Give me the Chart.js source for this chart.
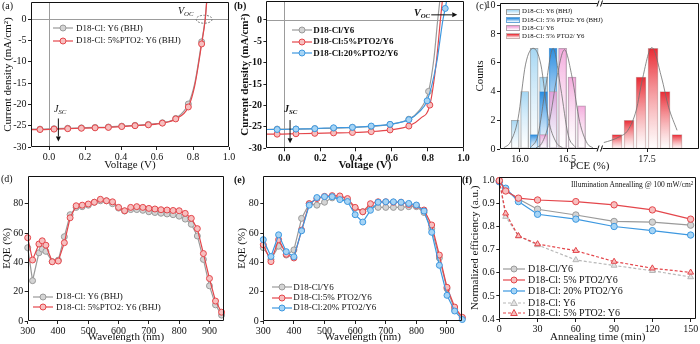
<!DOCTYPE html>
<html lang="en">
<head>
<meta charset="UTF-8" />
<title>D18-Cl / PTO2 devices</title>
<script src="https://cdn.jsdelivr.net/npm/chart.js"></script>
<style>
  html, body { margin: 0; padding: 0; background: #fff; }
  body { position: relative; width: 700px; height: 344px; overflow: hidden;
         font-family: "Liberation Serif", "Times New Roman", serif; color: #111; }
  canvas { position: absolute; }
  .lbl { position: absolute; white-space: nowrap; line-height: 1; font-size: 10px; }
  .lbl sub { font-size: 0.68em; vertical-align: -0.3em; }
  .lbl sup { font-size: 0.68em; vertical-align: 0.4em; }
  .lrow { position: absolute; display: flex; align-items: center; height: 12px; white-space: nowrap; line-height: 1; }
  .lrow svg { flex: none; display: block; }
</style>
</head>
<body>
<canvas id="pa" width="240" height="172" style="left:0;top:0"></canvas>
<canvas id="pb" width="240" height="172" style="left:236px;top:0"></canvas>
<canvas id="pc1" width="134" height="172" style="left:470px;top:0"></canvas>
<canvas id="pc2" width="104" height="172" style="left:596px;top:0"></canvas>
<canvas id="pd" width="236" height="172" style="left:0;top:172px"></canvas>
<canvas id="pe" width="236" height="172" style="left:232px;top:172px"></canvas>
<canvas id="pf" width="234" height="172" style="left:466px;top:172px"></canvas>

<!-- panel letters and notes -->
<div class="lbl" style="left:2px;top:1px">(a)</div>
<div class="lbl" style="left:178px;top:6px;font-style:italic">V<sub>OC</sub></div>
<div class="lbl" style="left:54px;top:104px;font-style:italic">J<sub>SC</sub></div>
<div class="lbl" style="left:234px;top:1px;font-weight:bold">(b)</div>
<div class="lbl" style="left:414px;top:8px;font-style:italic;font-weight:bold">V<sub>OC</sub></div>
<div class="lbl" style="left:284px;top:104px;font-style:italic;font-weight:bold">J<sub>SC</sub></div>
<div class="lbl" style="left:476px;top:1px">(c)</div>
<div class="lbl" style="left:570px;top:160px;font-size:11px">PCE (%)</div>
<div class="lbl" style="left:1px;top:174px">(d)</div>
<div class="lbl" style="left:234px;top:175px;font-weight:bold">(e)</div>
<div class="lbl" style="left:462px;top:175px;font-weight:bold">(f)</div>
<div class="lbl" style="left:571px;top:181px;font-size:7.5px">Illumination Annealling @ 100 mW/cm<sup>2</sup></div>

<script>
// ---------------- data ----------------
// (a) J-V, BHJ devices
const aVolt  = [-0.1, -0.05, 0.028, 0.104, 0.18, 0.256, 0.33, 0.404, 0.478, 0.552, 0.63, 0.704, 0.774, 0.81, 0.848, 0.868, 0.876];
const aMarks = [0, 1, 1, 1, 1, 1, 1, 1, 1, 1, 1, 1, 1, 0, 1, 0, 0];
const aJ_Y6   = [-25.8, -25.8, -25.7, -25.6, -25.5, -25.4, -25.3, -25.1, -24.9, -24.7, -24.3, -23.3, -19.9, -15.0, -5.3, 0.2, 4.3];
const aJ_PTO2 = [-25.9, -25.9, -25.8, -25.7, -25.6, -25.5, -25.4, -25.2, -25.0, -24.8, -24.4, -23.4, -20.6, -15.5, -5.8, 0, 4];
const jvXTicks = [0, 0.2, 0.4, 0.6, 0.8, 1.0];
const jvYTicks = [0, -5, -10, -15, -20, -25, -30];

// (b) J-V, D18-Cl/Y6 with PTO2
const bVolt_Y6  = [-0.1, -0.04, 0.065, 0.17, 0.275, 0.38, 0.485, 0.59, 0.695, 0.75, 0.805, 0.835, 0.856, 0.868];
const bJ_Y6     = [-25.6, -25.5, -25.5, -25.4, -25.3, -25.1, -24.9, -24.4, -23.2, -21.3, -16.7, -9.0, 0, 4.5];
const bMarks_Y6 = [0, 1, 1, 1, 1, 1, 1, 1, 1, 0, 1, 0, 0, 0];
const bVolt_5   = [-0.1, -0.04, 0.065, 0.17, 0.275, 0.38, 0.485, 0.59, 0.695, 0.76, 0.812, 0.848, 0.871, 0.882];
const bJ_5      = [-26.7, -26.7, -26.6, -26.5, -26.4, -26.3, -26.1, -25.7, -24.8, -23.0, -19.9, -10.0, 0, 4.5];
const bMarks_5  = [0, 1, 1, 1, 1, 1, 1, 1, 1, 0, 1, 0, 0, 0];
const bVolt_20  = [-0.1, -0.04, 0.065, 0.17, 0.275, 0.38, 0.485, 0.59, 0.695, 0.75, 0.797, 0.85, 0.885, 0.898, 0.906];
const bJ_20     = [-25.6, -25.6, -25.5, -25.4, -25.2, -25.1, -24.8, -24.4, -23.3, -21.6, -18.9, -10.0, 0, 2.7, 4.5];
const bMarks_20 = [0, 1, 1, 1, 1, 1, 1, 1, 1, 0, 1, 0, 0, 1, 0];

// (c) PCE histograms (counts per bin) and fitted curves
const cTicksL = [16.0, 16.5];
const cTicksR = [17.5];
const cTicksY = [0, 2, 4, 6, 8, 10];
const cPce_BhjY6   = [15.95, 16.05, 16.15, 16.25];
const cCnt_BhjY6   = [2, 4, 7, 5];
const cPce_BhjPTO2 = [16.15, 16.25, 16.35];
const cCnt_BhjPTO2 = [1, 4, 7];
const cPce_Y6      = [16.25, 16.35, 16.45, 16.55, 16.65];
const cCnt_Y6      = [1, 4, 7, 5, 3];
const cPce_PTO2    = [17.25, 17.35, 17.45, 17.55, 17.65, 17.75];
const cCnt_PTO2    = [1, 2, 5, 7, 4, 1];
const cFitX_BhjY6   = [15.83, 15.9, 15.98, 16.06, 16.14, 16.22, 16.3, 16.38, 16.45];
const cFitY_BhjY6   = [0.08, 0.49, 2.1, 5.9, 7.0, 5.9, 2.1, 0.49, 0.08];
const cFitX_BhjPTO2 = [16.11, 16.19, 16.27, 16.35, 16.43, 16.51, 16.59];
const cFitY_BhjPTO2 = [0.08, 0.95, 4.25, 7.0, 4.25, 0.95, 0.08];
const cFitX_Y6      = [16.17, 16.23, 16.31, 16.39, 16.47, 16.55, 16.63, 16.71, 16.77];
const cFitY_Y6      = [0.08, 0.39, 1.9, 5.0, 6.9, 5.0, 1.9, 0.39, 0.08];
const cFitX_PTO2    = [17.14, 17.2, 17.27, 17.34, 17.41, 17.46, 17.54, 17.62, 17.68, 17.75];
const cFitY_PTO2    = [0.45, 0.6, 0.85, 1.3, 2.7, 4.8, 7.05, 5.0, 2.9, 1.3];

// (d) EQE, BHJ devices
const dWave   = [300, 316, 337, 348, 360, 381, 401, 421, 440, 460, 480, 500, 520, 540, 560, 580, 600, 620, 640, 660, 680, 700, 720, 740, 760, 780, 800, 820, 840, 860, 880, 900, 920, 940];
const dEqe_Y6   = [50, 27.5, 46.5, 49, 47.5, 40.5, 41.5, 57.5, 72.5, 77.5, 78, 79, 81, 82, 82, 80, 77, 75, 76, 76, 75.5, 74.5, 74, 73.5, 73, 72.5, 71.5, 69.5, 66, 58, 42, 24, 11, 4];
const dEqe_PTO2 = [56.8, 41.6, 52.5, 54.7, 51.7, 40.4, 40.9, 53.4, 70.4, 78.6, 79, 79.8, 81, 83, 82, 81.3, 77.5, 75.2, 77.5, 78, 77.5, 76.8, 76.4, 75.9, 75.7, 75.4, 75.2, 73.4, 70, 63, 46, 29, 13.6, 6];
const eqeXTicks = [300, 400, 500, 600, 700, 800, 900];
const eqeYTicks = [0, 20, 40, 60, 80];

// (e) EQE, PTO2 ternary devices
const eWave   = [300, 325, 350, 375, 400, 425, 450, 475, 500, 525, 550, 575, 600, 625, 650, 675, 700, 725, 750, 775, 800, 825, 850, 875, 900, 925, 950];
const eEqe_Y6 = [50, 42, 51, 45, 48.5, 70, 80, 79, 81, 84, 84, 82, 77, 74.5, 78, 77.5, 77.5, 77.5, 77.5, 78, 78, 74, 63, 43, 22, 8, 2];
const eEqe_5  = [52, 40.5, 55.5, 45.5, 43, 62, 80, 83.5, 85, 85.5, 85.3, 83.5, 77.5, 74.5, 80, 81.3, 81.3, 81, 81, 79.5, 78.8, 75.7, 65.5, 45, 23, 9.5, 2.5];
const eEqe_20 = [55.5, 44, 58.8, 47.3, 43.8, 61.5, 79, 84.2, 84.8, 84.8, 82.8, 81.5, 72.5, 67.5, 75.5, 81, 81.3, 81.3, 81, 80.2, 79.1, 75, 60.5, 38, 17.5, 6.8, 1];

// (f) normalized efficiency vs annealing time
const fTime = [0, 5, 15, 30, 60, 90, 120, 150];
const fEff_Y6      = [1.0, 0.958, 0.92, 0.876, 0.851, 0.823, 0.82, 0.807];
const fEff_5       = [1.0, 0.955, 0.924, 0.916, 0.909, 0.895, 0.873, 0.833];
const fEff_20      = [0.995, 0.967, 0.909, 0.854, 0.833, 0.801, 0.783, 0.764];
const fEff_BhjY6   = [1.0, 0.844, 0.76, 0.721, 0.656, 0.632, 0.609, 0.582];
const fEff_BhjPTO2 = [1.0, 0.858, 0.76, 0.725, 0.696, 0.649, 0.62, 0.602];
const fXTicks = [0, 30, 60, 90, 120, 150];
const fYTicks = [0.4, 0.5, 0.6, 0.7, 0.8, 0.9, 1.0];

// ---------------- styling ----------------
const COL = {
  gray:   { line: '#9a9a9a', fill: '#d4d4d4' },
  red:    { line: '#e4464b', fill: '#f7bfbf' },
  blue:   { line: '#3d98e0', fill: '#a6d4f5' },
  ltgray: { line: '#b8b8b8', fill: '#e4e4e4' }
};

Chart.defaults.font.family = '"Liberation Serif", "Times New Roman", serif';
Chart.defaults.font.size = 10;
Chart.defaults.color = '#111';

const pts = (xs, ys) => xs.map((x, i) => ({ x, y: ys[i] }));

function linAxis(o) {
  return {
    type: 'linear', position: o.pos, display: o.display !== false,
    min: o.min, max: o.max, offset: false,
    afterBuildTicks: s => { s.ticks = o.ticks.map(v => ({ value: v })); },
    afterFit: s => {
      if (o.pos === 'left') s.width = o.size; else s.height = o.size;
      s.paddingLeft = s.paddingRight = s.paddingTop = s.paddingBottom = 0;
    },
    grid: { drawOnChartArea: false, offset: false, tickLength: 3, color: '#222' },
    border: { display: false },
    ticks: {
      padding: 1.5, autoSkip: false, maxRotation: 0, color: '#111',
      font: { size: 10, weight: o.bold ? 'bold' : 'normal' },
      callback: v => o.fmt ? o.fmt(v) : String(v)
    },
    title: {
      display: !!o.title, text: o.title, color: '#111',
      padding: { top: o.tpad || 0, bottom: o.tpad || 0 },
      font: { size: 11, weight: o.bold ? 'bold' : 'normal' }
    }
  };
}

// box around the plot, optionally with an axis break on one side
const framePlugin = {
  id: 'frame',
  afterDatasetsDraw(chart, args, o) {
    const { ctx, chartArea: a } = chart;
    const sides = o.sides || 'ltrb';
    const L = Math.round(a.left) + 0.5, R = Math.round(a.right) - 0.5;
    const T = Math.round(a.top) + 0.5, B = Math.round(a.bottom) - 0.5;
    const x0 = sides.includes('l') ? L : L - 1, x1 = sides.includes('r') ? R : R + 1;
    ctx.save();
    ctx.strokeStyle = '#111';
    ctx.lineWidth = 1;
    ctx.beginPath();
    if (sides.includes('t')) { ctx.moveTo(x0, T); ctx.lineTo(x1, T); }
    if (sides.includes('b')) { ctx.moveTo(x0, B); ctx.lineTo(x1, B); }
    if (sides.includes('l')) { ctx.moveTo(L, T); ctx.lineTo(L, B); }
    if (sides.includes('r')) { ctx.moveTo(R, T); ctx.lineTo(R, B); }
    ctx.stroke();
    if (o.breakRight) {
      const xm = R + 3.5;
      ctx.beginPath();
      [T, B].forEach(y => {
        ctx.moveTo(xm - 3, y + 3); ctx.lineTo(xm - 1, y - 3);
        ctx.moveTo(xm + 0.5, y + 3); ctx.lineTo(xm + 2.5, y - 3);
      });
      ctx.stroke();
    }
    ctx.restore();
  }
};

// zero lines, arrows and the Voc ellipse
const decoPlugin = {
  id: 'deco',
  beforeDatasetsDraw(chart, args, o) {
    if (!o.zero) return;
    const { ctx, chartArea: a, scales: { x, y } } = chart;
    const px = Math.round(x.getPixelForValue(0)) + 0.5, py = Math.round(y.getPixelForValue(0)) + 0.5;
    ctx.save();
    ctx.strokeStyle = '#9c9c9c';
    ctx.lineWidth = 1;
    ctx.beginPath();
    ctx.moveTo(px, a.top); ctx.lineTo(px, a.bottom);
    ctx.moveTo(a.left, py); ctx.lineTo(a.right, py);
    ctx.stroke();
    ctx.restore();
  },
  afterDatasetsDraw(chart, args, o) {
    const { ctx, scales: { x, y } } = chart;
    ctx.save();
    ctx.strokeStyle = '#111';
    ctx.fillStyle = '#111';
    ctx.lineWidth = 1;
    (o.arrows || []).forEach(ar => {
      const x1 = x.getPixelForValue(ar[0]), y1 = y.getPixelForValue(ar[1]);
      const x2 = x.getPixelForValue(ar[2]), y2 = y.getPixelForValue(ar[3]);
      const ang = Math.atan2(y2 - y1, x2 - x1), h = 5, w = 2.5;
      ctx.beginPath();
      ctx.moveTo(x1, y1);
      ctx.lineTo(x2 - Math.cos(ang) * h, y2 - Math.sin(ang) * h);
      ctx.stroke();
      ctx.beginPath();
      ctx.moveTo(x2, y2);
      ctx.lineTo(x2 - Math.cos(ang) * h - Math.sin(ang) * w, y2 - Math.sin(ang) * h + Math.cos(ang) * w);
      ctx.lineTo(x2 - Math.cos(ang) * h + Math.sin(ang) * w, y2 - Math.sin(ang) * h - Math.cos(ang) * w);
      ctx.closePath();
      ctx.fill();
    });
    if (o.ellipse) {
      const e = o.ellipse;
      ctx.strokeStyle = '#777';
      ctx.setLineDash([2, 1.5]);
      ctx.beginPath();
      ctx.ellipse(x.getPixelForValue(e[0]), y.getPixelForValue(e[1]), e[2], e[3], 0, 0, Math.PI * 2);
      ctx.stroke();
    }
    ctx.restore();
  }
};

function series(xs, ys, c, o = {}) {
  const r = o.r || 3;
  return {
    data: pts(xs, ys), showLine: true,
    borderColor: c.line, backgroundColor: c.fill, pointBorderColor: c.line, pointBackgroundColor: c.fill,
    borderWidth: 1.2, pointBorderWidth: 1,
    pointRadius: o.marks ? o.marks.map(m => m ? r : 0) : r,
    pointStyle: o.style || 'circle', borderDash: o.dash || [],
    cubicInterpolationMode: o.smooth ? 'monotone' : 'default', tension: 0,
    clip: o.clip === undefined ? undefined : o.clip,
    order: o.order || 0
  };
}

function lineChart(id, pad, xAx, yAx, datasets, deco) {
  return new Chart(document.getElementById(id), {
    type: 'scatter',
    data: { datasets },
    options: {
      responsive: false, animation: false, events: [],
      layout: { autoPadding: false, padding: pad },
      scales: { x: linAxis(Object.assign({ pos: 'bottom' }, xAx)), y: linAxis(Object.assign({ pos: 'left' }, yAx)) },
      plugins: { legend: { display: false }, tooltip: { enabled: false }, frame: {}, deco: deco || {} }
    },
    plugins: [framePlugin, decoPlugin]
  });
}

// ---------------- (a) ----------------
lineChart('pa', { left: 0, top: 2, right: 11, bottom: 0 },
  { min: -0.1, max: 1.0, ticks: jvXTicks, size: 25, title: 'Voltage (V)', tpad: 0.4, fmt: v => v.toFixed(1) },
  { min: -30, max: 4.05, ticks: jvYTicks, size: 31, title: 'Current density (mA/cm²)', tpad: 1.4 },
  [
    series(aVolt, aJ_PTO2, COL.red, { marks: aMarks, smooth: true, order: 0 }),
    series(aVolt, aJ_Y6, COL.gray, { marks: aMarks, smooth: true, order: 1 })
  ],
  { zero: true, arrows: [[0.052, -23.3, 0.052, -28.7]], ellipse: [0.862, 0, 8, 4] });

// ---------------- (b) ----------------
lineChart('pb', { left: 0, top: 1, right: 12.5, bottom: 0 },
  { min: -0.1, max: 1.0, ticks: jvXTicks, size: 23.7, title: 'Voltage (V)', tpad: 0.4, bold: true, fmt: v => v.toFixed(1) },
  { min: -30, max: 4.44, ticks: jvYTicks, size: 30.4, title: 'Current density (mA/cm²)', tpad: 2.4, bold: true },
  [
    series(bVolt_20, bJ_20, COL.blue, { marks: bMarks_20, smooth: true, order: 0 }),
    series(bVolt_Y6, bJ_Y6, COL.gray, { marks: bMarks_Y6, smooth: true, order: 1 }),
    series(bVolt_5, bJ_5, COL.red, { marks: bMarks_5, smooth: true, order: 2 })
  ],
  { zero: true, arrows: [[0.032, -23.4, 0.032, -28.8], [0.82, 1.2, 0.965, 1.2]] });

// ---------------- (c) ----------------
function barGrad(col, low) {
  return ctx => {
    const ch = ctx.chart;
    if (!ch.chartArea || ctx.type !== 'data') return col;
    const ys = ch.scales.y;
    const g = ch.ctx.createLinearGradient(0, ys.getPixelForValue(ctx.parsed.y), 0, ys.getPixelForValue(0));
    g.addColorStop(0, col);
    g.addColorStop(1, low);
    return g;
  };
}
function bars(xs, ns, top, low, edge, order, w) {
  return { type: 'bar', data: pts(xs, ns), grouped: false, order, barThickness: w,
           backgroundColor: barGrad(top, low), borderColor: edge, borderWidth: 0.8, borderSkipped: false };
}
function fit(xs, ys) {
  return { type: 'line', data: pts(xs, ys), borderColor: '#6e6e6e', borderWidth: 0.8, pointRadius: 0,
           cubicInterpolationMode: 'monotone', order: 0 };
}
function histChart(id, pad, xAx, yAx, datasets, frame) {
  return new Chart(document.getElementById(id), {
    type: 'bar',
    data: { datasets },
    options: {
      responsive: false, animation: false, events: [],
      layout: { autoPadding: false, padding: pad },
      scales: { x: linAxis(Object.assign({ pos: 'bottom' }, xAx)), y: linAxis(Object.assign({ pos: 'left' }, yAx)) },
      plugins: { legend: { display: false }, tooltip: { enabled: false }, frame, deco: {} }
    },
    plugins: [framePlugin, decoPlugin]
  });
}
histChart('pc1', { left: 0, top: 3, right: 7, bottom: 0 },
  { min: 15.79, max: 16.813, ticks: cTicksL, size: 23, fmt: v => v.toFixed(1) },
  { min: 0, max: 10.15, ticks: cTicksY, size: 30, title: 'Counts', tpad: 3.4 },
  [
    bars(cPce_BhjY6, cCnt_BhjY6, 'rgba(160,212,242,0.95)', 'rgba(255,255,255,0.5)', '#a5a5a5', 3, 8),
    bars(cPce_BhjPTO2, cCnt_BhjPTO2, 'rgba(30,134,222,0.95)', 'rgba(255,255,255,0.5)', '#6aa6d8', 2, 8),
    bars(cPce_Y6, cCnt_Y6, 'rgba(240,150,212,0.8)', 'rgba(255,255,255,0.35)', '#b0a0ac', 1, 8),
    fit(cFitX_BhjY6, cFitY_BhjY6), fit(cFitX_BhjPTO2, cFitY_BhjPTO2), fit(cFitX_Y6, cFitY_Y6)
  ],
  { sides: 'ltb', breakRight: true });
histChart('pc2', { left: 7, top: 3, right: 1, bottom: 0 },
  { min: 17.133, max: 17.933, ticks: cTicksR, size: 23, fmt: v => v.toFixed(1) },
  { min: 0, max: 10.15, ticks: cTicksY, size: 0, display: false },
  [
    bars(cPce_PTO2, cCnt_PTO2, 'rgba(232,30,40,0.95)', 'rgba(255,255,255,0.6)', '#c9b0b0', 1, 10),
    fit(cFitX_PTO2, cFitY_PTO2)
  ],
  { sides: 'rtb' });

// ---------------- (d) ----------------
lineChart('pd', { left: 0, top: 4, right: 12, bottom: 0 },
  { min: 300, max: 948, ticks: eqeXTicks, size: 23, title: 'Wavelength (nm)', tpad: 0.7 },
  { min: 0, max: 98.9, ticks: eqeYTicks, size: 27.7, title: 'EQE (%)', tpad: 0.4 },
  [
    series(dWave, dEqe_PTO2, COL.red, { order: 0, clip: false }),
    series(dWave, dEqe_Y6, COL.gray, { order: 1, clip: false })
  ]);

// ---------------- (e) ----------------
lineChart('pe', { left: 0, top: 4, right: 5.7, bottom: 0 },
  { min: 300, max: 950, ticks: eqeXTicks, size: 23, title: 'Wavelength (nm)', tpad: 0.7 },
  { min: 0, max: 98.9, ticks: eqeYTicks, size: 31.3, title: 'EQE (%)', tpad: 3.1 },
  [
    series(eWave, eEqe_20, COL.blue, { order: 0, clip: false }),
    series(eWave, eEqe_5, COL.red, { order: 1, clip: false }),
    series(eWave, eEqe_Y6, COL.gray, { order: 2, clip: false })
  ]);

// ---------------- (f) ----------------
lineChart('pf', { left: 0, top: 4.7, right: 4, bottom: 0 },
  { min: 0, max: 154.2, ticks: fXTicks, size: 25, title: 'Annealing time (min)', tpad: 0 },
  { min: 0.4, max: 1.017, ticks: fYTicks, size: 33.3, title: 'Normalized efficiency (a.u.)', tpad: 2.4, fmt: v => v.toFixed(1) },
  [
    series(fTime, fEff_5, COL.red, { order: 0, clip: false, r: 3.2 }),
    series(fTime, fEff_20, COL.blue, { order: 1, clip: false, r: 3.2 }),
    series(fTime, fEff_Y6, COL.gray, { order: 2, clip: false, r: 3.2 }),
    series(fTime, fEff_BhjPTO2, COL.red, { order: 3, clip: false, r: 3.4, style: 'triangle', dash: [3, 2] }),
    series(fTime, fEff_BhjY6, COL.ltgray, { order: 4, clip: false, r: 3.4, style: 'triangle', dash: [3, 2] })
  ]);

// ---------------- legends (HTML) ----------------
function icon(r, w) {
  const NS = 'http://www.w3.org/2000/svg';
  const svg = document.createElementNS(NS, 'svg');
  svg.setAttribute('width', w); svg.setAttribute('height', 10);
  const ln = document.createElementNS(NS, 'line');
  ln.setAttribute('x1', 0); ln.setAttribute('x2', w); ln.setAttribute('y1', 5); ln.setAttribute('y2', 5);
  ln.setAttribute('stroke', r.c.line); ln.setAttribute('stroke-width', 1.2);
  if (r.dash) ln.setAttribute('stroke-dasharray', '3 2');
  svg.appendChild(ln);
  let mk;
  if (r.tri) {
    mk = document.createElementNS(NS, 'polygon');
    const cx = w / 2;
    mk.setAttribute('points', `${cx},1.5 ${cx + 3.3},7.5 ${cx - 3.3},7.5`);
  } else {
    mk = document.createElementNS(NS, 'circle');
    mk.setAttribute('cx', w / 2); mk.setAttribute('cy', 5); mk.setAttribute('r', 3);
  }
  mk.setAttribute('fill', r.c.fill); mk.setAttribute('stroke', r.c.line); mk.setAttribute('stroke-width', 1);
  svg.appendChild(mk);
  return svg;
}
function legend(spec) {
  spec.rows.forEach((r, i) => {
    const d = document.createElement('div');
    d.className = 'lrow';
    d.style.left = spec.x + 'px';
    d.style.top = (spec.ys[i] - 6) + 'px';
    d.style.fontSize = spec.font + 'px';
    if (spec.bold) d.style.fontWeight = 'bold';
    if (r.swatch) {
      const s = document.createElement('div');
      s.style.cssText = `width:${spec.w}px;height:6px;box-sizing:border-box;border:0.8px solid ${r.edge};` +
        `background:linear-gradient(to bottom, ${r.swatch}, #fff);flex:none`;
      d.appendChild(s);
    } else {
      d.appendChild(icon(r, spec.w));
    }
    const t = document.createElement('span');
    t.textContent = r.t;
    t.style.marginLeft = (spec.tx - spec.x - spec.w) + 'px';
    d.appendChild(t);
    document.body.appendChild(d);
  });
}
legend({ x: 53, tx: 76, w: 20, ys: [28.3, 40.7], font: 9, rows: [
  { t: 'D18-Cl: Y6 (BHJ)', c: COL.gray },
  { t: 'D18-Cl: 5%PTO2: Y6 (BHJ)', c: COL.red } ] });
legend({ x: 291.7, tx: 313.3, w: 20, ys: [30, 41.7, 53.3], font: 9, bold: true, rows: [
  { t: 'D18-Cl/Y6', c: COL.gray },
  { t: 'D18-Cl:5%PTO2/Y6', c: COL.red },
  { t: 'D18-Cl:20%PTO2/Y6', c: COL.blue } ] });
legend({ x: 505.7, tx: 522, w: 14, ys: [11.7, 20, 28.3, 36], font: 6.8, rows: [
  { t: 'D18-Cl: Y6 (BHJ)', swatch: '#a0d4f2', edge: '#9a9a9a' },
  { t: 'D18-Cl: 5% PTO2: Y6 (BHJ)', swatch: '#1e86de', edge: '#6aa6d8' },
  { t: 'D18-Cl/ Y6', swatch: '#f096d4', edge: '#b0a0ac' },
  { t: 'D18-Cl: 5% PTO2/ Y6', swatch: '#e81e28', edge: '#c9b0b0' } ] });
legend({ x: 33, tx: 56, w: 20, ys: [296.7, 307.3], font: 9, rows: [
  { t: 'D18-Cl: Y6 (BHJ)', c: COL.gray },
  { t: 'D18-Cl: 5%PTO2: Y6 (BHJ)', c: COL.red } ] });
legend({ x: 271.7, tx: 293.3, w: 20, ys: [287.3, 297.7, 307.7], font: 9, rows: [
  { t: 'D18-Cl/Y6', c: COL.gray },
  { t: 'D18-Cl:5% PTO2/Y6', c: COL.red },
  { t: 'D18-Cl:20% PTO2/Y6', c: COL.blue } ] });
legend({ x: 503, tx: 528, w: 22, ys: [269.3, 280, 290.5, 302.7, 313.3], font: 10, rows: [
  { t: 'D18-Cl/Y6', c: COL.gray },
  { t: 'D18-Cl: 5% PTO2/Y6', c: COL.red },
  { t: 'D18-Cl: 20% PTO2/Y6', c: COL.blue },
  { t: 'D18-Cl: Y6', c: COL.ltgray, tri: true, dash: true },
  { t: 'D18-Cl: 5% PTO2: Y6', c: COL.red, tri: true, dash: true } ] });
</script>
</body>
</html>
